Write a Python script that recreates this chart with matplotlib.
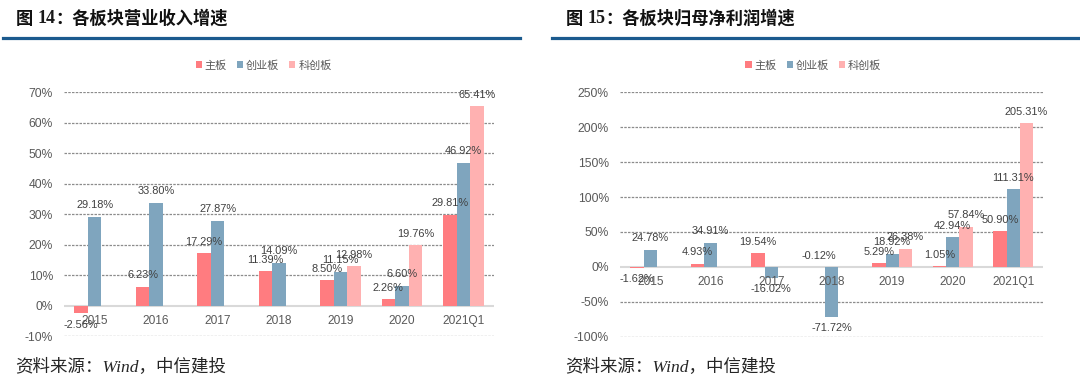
import numpy as np
import matplotlib.pyplot as plt
from matplotlib.lines import Line2D

plt.rcParams['font.family'] = ['Liberation Sans', 'Noto Sans CJK SC']

# ---------------- data ----------------
categories = ['2015', '2016', '2017', '2018', '2019', '2020', '2021Q1']
series_names = ['主板', '创业板', '科创板']

# 营业收入增速 (%)
rev_main = [-2.56, 6.23, 17.29, 11.39, 8.50, 2.26, 29.81]
rev_gem = [29.18, 33.80, 27.87, 14.09, 11.15, 6.60, 46.92]
rev_star = [None, None, None, None, 12.98, 19.76, 65.41]
rev_ticks = [-10, 0, 10, 20, 30, 40, 50, 60, 70]

# 归母净利润增速 (%)
np_main = [-1.62, 4.93, 19.54, -0.12, 5.29, 1.05, 50.90]
np_gem = [24.78, 34.91, -16.02, -71.72, 18.92, 42.94, 111.31]
np_star = [None, None, None, None, 26.38, 57.84, 205.31]
np_ticks = [-100, -50, 0, 50, 100, 150, 200, 250]

colors = ['#FF7C80', '#7FA5BE', '#FFB1B1']
W, H = 1080, 380


def fx(px):
    return px / W


def fy(py):
    return 1 - py / H


def draw_panel(ax, data, ticks, legend_x):
    x = np.arange(len(categories))
    bw = 0.22
    for k, vals in enumerate(data):
        idx = [i for i, v in enumerate(vals) if v is not None]
        hv = [vals[i] for i in idx]
        bars = ax.bar(x[idx] + (k - 1) * bw, hv, bw, color=colors[k],
                      label=series_names[k], zorder=3)
        for b, v in zip(bars, hv):
            # excel puts the tiny -0.12% label above the axis
            up = v > -0.5
            ax.annotate(f'{v:.2f}%', xy=(b.get_x() + b.get_width() / 2, max(v, 0) if up else v),
                        xytext=(0, 4.5 if up else -4.5), textcoords='offset points',
                        ha='center', va='bottom' if up else 'top',
                        fontsize=7.9, color='#404040', zorder=5)
    for t in ticks:
        if t == 0:
            ax.axhline(0, color='#D9D9D9', lw=1.5, zorder=2)
        else:
            ax.axhline(t, color='#8C8C8C', lw=0.9, ls=(0, (2, 1)), zorder=1)
    for i, c in enumerate(categories):
        ax.annotate(c, xy=(i, 0), xytext=(0, -10.8), textcoords='offset points',
                    ha='center', va='center', fontsize=8.6, color='#595959',
                    zorder=4)
    ax.set_xlim(-0.5, len(categories) - 0.5)
    ax.set_ylim(ticks[0], ticks[-1])
    ax.set_yticks(ticks)
    ax.set_yticklabels([f'{t}%' for t in ticks])
    ax.set_xticks([])
    ax.tick_params(axis='y', length=0, pad=8, labelsize=8.7, labelcolor='#595959')
    for s in ax.spines.values():
        s.set_visible(False)
    ax.legend(loc='center', bbox_to_anchor=(fx(legend_x), fy(65.5)),
              bbox_transform=ax.figure.transFigure, ncol=3, frameon=False,
              handlelength=0.55, handleheight=0.55, handletextpad=0.25,
              columnspacing=0.9, labelcolor='#595959',
              prop={'family': ['Noto Sans CJK SC'], 'size': 8})


def draw_title(fig, ax, x0, num, text):
    t1 = fig.text(fx(x0), fy(19), '图', fontsize=12.4, fontweight='bold',
                  family=['Noto Sans CJK SC'], va='center', color='#111111')
    t2 = ax.annotate(num, xy=(1, 0), xycoords=t1, xytext=(3, 0.5),
                     textcoords='offset points', va='bottom', fontsize=13,
                     fontweight='bold', family=['Liberation Serif'],
                     color='#1a1a1a')
    ax.annotate('：' + text, xy=(1, 0), xycoords=t2, xytext=(0, -0.5),
                textcoords='offset points', va='bottom', fontsize=12.4,
                fontweight='bold', family=['Noto Sans CJK SC'], color='#111111')


fig = plt.figure(figsize=(W / 100, H / 100), dpi=100)

ax1 = fig.add_axes([fx(64), fy(336.2), fx(494) - fx(64), fy(92.1) - fy(336.2)])
draw_panel(ax1, [rev_main, rev_gem, rev_star], rev_ticks, 263.8)

ax2 = fig.add_axes([fx(620), fy(336.9), fx(1043.4) - fx(620), fy(92.1) - fy(336.9)])
draw_panel(ax2, [np_main, np_gem, np_star], np_ticks, 813.3)

draw_title(fig, ax1, 16.2, '14', '各板块营业收入增速')
draw_title(fig, ax2, 565.9, '15', '各板块归母净利润增速')

fig.add_artist(Line2D([fx(3), fx(520)], [fy(37.5)] * 2, color='#1B5A8E', lw=2.3))
fig.add_artist(Line2D([fx(552), fx(1078)], [fy(37.5)] * 2, color='#1B5A8E', lw=2.3))

src = '资料来源：Wind，中信建投'
for sx in (15.5, 565.5):
    fig.text(fx(sx), fy(367.6), src, fontsize=12.6, va='center', color='#262626',
             style='italic', family=['Liberation Serif', 'Noto Sans CJK SC'])

fig.savefig('out.png', dpi=100)
